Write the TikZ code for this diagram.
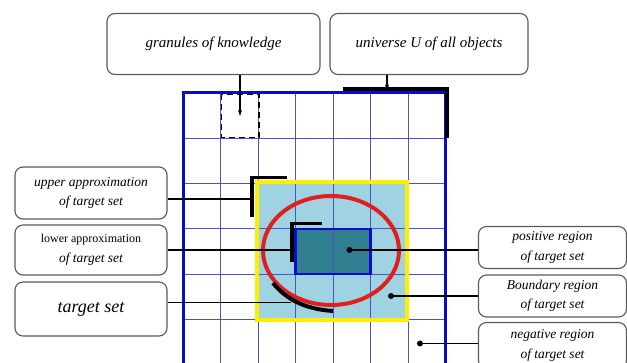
\documentclass[tikz,border=0pt]{standalone}
\usepackage{fontspec}
\setmainfont{Liberation Serif}
\usetikzlibrary{arrows.meta}
\definecolor{gridblue}{HTML}{0A0ACC}
\definecolor{thinblue}{HTML}{5050C8}
\definecolor{lightfill}{HTML}{9FD3E1}
\definecolor{darkfill}{HTML}{2F7F91}
\definecolor{yellowline}{HTML}{FFEE00}
\definecolor{redline}{HTML}{E0201F}
\definecolor{boxline}{HTML}{5A5A5A}
\tikzset{
  infobox/.style={draw=boxline, line width=1.1pt, rounded corners=8pt, fill=white,
    align=center, inner sep=0pt, font=\fontsize{13.5}{19.5}\selectfont\itshape},
  thingrid/.style={draw=thinblue, line width=1pt},
  outerline/.style={draw=gridblue, line width=3pt},
  conn/.style={draw=black, line width=1.6pt},
  blackmark/.style={draw=black, line width=3.2pt},
  dotend/.style={circle, fill=black, inner sep=0pt, minimum size=6pt}
}
\begin{document}
\begin{tikzpicture}[x=1pt,y=-1pt]
\useasboundingbox (0,0) rectangle (627,363);
\fill[white] (0,0) rectangle (627,363);
\begin{scope}
\clip (0,0) rectangle (627,363);
% fills
\fill[lightfill] (257,182) rectangle (407,320);
\fill[darkfill] (295.5,228.9) rectangle (370.5,274.2);
% thin grid
\foreach \x in {220.5,258,295.5,333,370.5,408}
  \draw[thingrid] (\x,93) -- (\x,370);
\foreach \y in {138.3,183.6,228.9,274.2,319.5}
  \draw[thingrid] (183,\y) -- (445.5,\y);
% outer border
\draw[outerline] (183,370) -- (183,93) -- (445.5,93) -- (445.5,370);
% yellow square, lower approximation, target set
\draw[yellowline, line width=4pt] (257,182) rectangle (407,320);
\draw[gridblue, line width=2.2pt] (295.5,228.9) rectangle (370.5,274.2);
\draw[redline, line width=4pt] (331,250.5) ellipse [x radius=68, y radius=54.5];
% dashed granule
\draw[black, line width=1.8pt, dash pattern=on 6pt off 4pt] (221.5,94.5) rectangle (259,137.5);

% boxes
\node[infobox, minimum width=213pt, minimum height=61pt, font=\fontsize{15}{18}\selectfont\itshape] (gran) at (213.5,44) {granules of knowledge};
\node[infobox, minimum width=198pt, minimum height=61pt, font=\fontsize{15}{18}\selectfont\itshape] (univ) at (429,44) {universe U of all objects};
\node[infobox, minimum width=152pt, minimum height=52pt] (ua) at (91,193) {upper approximation\\of target set};
\node[infobox, minimum width=152pt, minimum height=50pt] (la) at (91,250) {{\upshape\fontsize{12}{17}\selectfont lower approximation}\\of target set};
\node[infobox, minimum width=152pt, minimum height=54pt, font=\fontsize{18}{20}\selectfont\itshape] (ts) at (91,309) {target set};
\node[infobox, minimum width=148pt, minimum height=42pt] (pos) at (552.5,247.5) {positive region\\of target set};
\node[infobox, minimum width=148pt, minimum height=42pt] (bnd) at (552.5,296) {Boundary region\\of target set};
\node[infobox, minimum width=148pt, minimum height=46pt] (neg) at (552.5,345.5) {negative region\\of target set};

% marks
\coordinate (uni1) at (343,89);
\coordinate (uni2) at (387,89);
\coordinate (uni3) at (447,89);
\coordinate (uni4) at (447,138);
\draw[blackmark] (uni1) -- (uni3) -- (uni4);
\coordinate (uaA) at (287,177.5);
\coordinate (uaB) at (252,177.5);
\coordinate (uaC) at (252,217);
\coordinate (uaE) at (252,199);
\draw[blackmark] (uaA) -- (uaB) -- (uaC);
\coordinate (laA) at (322,223.5);
\coordinate (laB) at (292,223.5);
\coordinate (laC) at (292,262);
\coordinate (laE) at (292,250);
\draw[blackmark] (laA) -- (laB) -- (laC);
\coordinate (tsA) at (273,283);
\coordinate (tsB) at (333,311);
\coordinate (tsE) at (291,302.5);
\draw[blackmark, line width=4pt] (tsA) .. controls (286,299) and (304,309) .. (tsB);
\coordinate (granE) at (240,116);
\coordinate (posD) at (349.5,250);
\coordinate (bndD) at (391,296);
\coordinate (negD) at (420,343.5);

% connectors
\draw[conn, -{Stealth[length=6pt,width=4pt]}] (gran.south -| granE) -- (granE);
\draw[conn, -{Stealth[length=6pt,width=4pt]}] (univ.south -| uni2) -- ([yshift=-1.5pt]uni2);
\draw[conn] (ua.east |- uaE) -- (uaE);
\draw[conn] (la.east |- laE) -- (laE);
\draw[conn] (ts.east |- tsE) -- (tsE);
\draw[conn] (posD) -- (pos.west |- posD);
\draw[conn] (bndD) -- (bnd.west |- bndD);
\draw[conn] (negD) -- (neg.west |- negD);
\node[dotend] (pd) at (posD) {};
\node[dotend] (bd) at (bndD) {};
\node[dotend] (nd) at (negD) {};
\end{scope}
\end{tikzpicture}
\end{document}
